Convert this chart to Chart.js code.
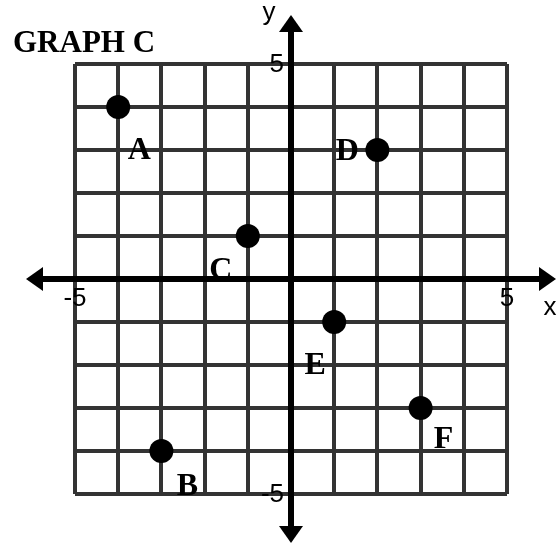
<!DOCTYPE html>
<html>
<head>
<meta charset="utf-8">
<title>Graph C</title>
<script src="https://cdn.jsdelivr.net/npm/chart.js@4.4.1/dist/chart.umd.min.js"></script>
<style>
  html, body { margin: 0; padding: 0; background: #fff; }
  canvas { display: block; }
</style>
</head>
<body>
<canvas id="graphC" width="560" height="544"></canvas>
<script>
// --- DADOS ---
const pointNames = ['A', 'B', 'C', 'D', 'E', 'F'];
const xValues = [-4, -3, -1, 2, 1, 3];
const yValues = [4, -4, 1, 3, -1, -3];
const xTickValues = [-5, 5];
const xTickLabels = ['-5', '5'];
const yTickValues = [5, -5];
const yTickLabels = ['5', '-5'];
const chartTitle = 'GRAPH C';

// where each letter sits relative to its dot (px)
const labelOffsets = [[21, 41], [26, 33], [-27, 32], [-30, -1], [-19, 41], [23, 29]];

const points = xValues.map((x, i) => ({ x: x, y: yValues[i] }));

function arrow(ctx, x, y, dx, dy) {
    // dx, dy = unit direction of the tip
    const len = 17, half = 12;
    ctx.beginPath();
    ctx.moveTo(x, y);
    ctx.lineTo(x - dx * len - dy * half, y - dy * len - dx * half);
    ctx.lineTo(x - dx * len + dy * half, y - dy * len + dx * half);
    ctx.closePath();
    ctx.fill();
}

const axesPlugin = {
    id: 'axesPlugin',
    beforeDatasetsDraw(chart) {
        const { ctx, chartArea, scales: { x, y } } = chart;
        const ox = x.getPixelForValue(0);
        const oy = y.getPixelForValue(0);
        const ext = 49;
        ctx.save();

        // letras dos pontos
        ctx.fillStyle = '#000';
        ctx.font = 'bold 32px "Liberation Serif", "Times New Roman", serif';
        ctx.textAlign = 'center';
        ctx.textBaseline = 'alphabetic';
        points.forEach((p, i) => {
            const px = x.getPixelForValue(p.x) + labelOffsets[i][0];
            const py = y.getPixelForValue(p.y) + labelOffsets[i][1];
            ctx.fillText(pointNames[i], px, py + 10.5);
        });

        // eixos com setas
        ctx.strokeStyle = '#000';
        ctx.lineWidth = 6;
        ctx.beginPath();
        ctx.moveTo(chartArea.left - ext + 10, oy);
        ctx.lineTo(chartArea.right + ext - 10, oy);
        ctx.moveTo(ox, chartArea.top - ext + 10);
        ctx.lineTo(ox, chartArea.bottom + ext - 10);
        ctx.stroke();
        arrow(ctx, chartArea.left - ext, oy, -1, 0);
        arrow(ctx, chartArea.right + ext, oy, 1, 0);
        arrow(ctx, ox, chartArea.top - ext, 0, -1);
        arrow(ctx, ox, chartArea.bottom + ext, 0, 1);

        // rótulos dos ticks
        ctx.font = '26px "Liberation Sans", Arial, sans-serif';
        ctx.textBaseline = 'alphabetic';
        ctx.textAlign = 'center';
        xTickValues.forEach((v, i) => {
            ctx.fillText(xTickLabels[i], x.getPixelForValue(v), oy + 27);
        });
        ctx.textAlign = 'right';
        yTickValues.forEach((v, i) => {
            ctx.fillText(yTickLabels[i], ox - 7, y.getPixelForValue(v) + 8);
        });

        // nomes dos eixos
        ctx.textAlign = 'center';
        ctx.fillText('x', chartArea.right + 43, oy + 36);
        ctx.fillText('y', ox - 22, chartArea.top - 44);

        // título
        ctx.textAlign = 'left';
        ctx.font = 'bold 31px "Liberation Serif", "Times New Roman", serif';
        ctx.fillText(chartTitle, 13, 52);
        ctx.restore();
    }
};

const gridScale = {
    type: 'linear',
    min: -5,
    max: 5,
    ticks: { display: false, stepSize: 1 },
    grid: { color: '#333', lineWidth: 4, drawTicks: false },
    border: { display: false }
};

new Chart(document.getElementById('graphC'), {
    type: 'scatter',
    data: {
        datasets: [{
            data: points,
            backgroundColor: '#000',
            borderWidth: 0,
            pointRadius: 12,
            pointHoverRadius: 12
        }]
    },
    options: {
        responsive: false,
        animation: false,
        devicePixelRatio: 1,
        layout: { padding: { left: 75, top: 64, right: 53, bottom: 50 } },
        plugins: { legend: { display: false }, tooltip: { enabled: false } },
        scales: { x: gridScale, y: gridScale }
    },
    plugins: [axesPlugin]
});
</script>
</body>
</html>
